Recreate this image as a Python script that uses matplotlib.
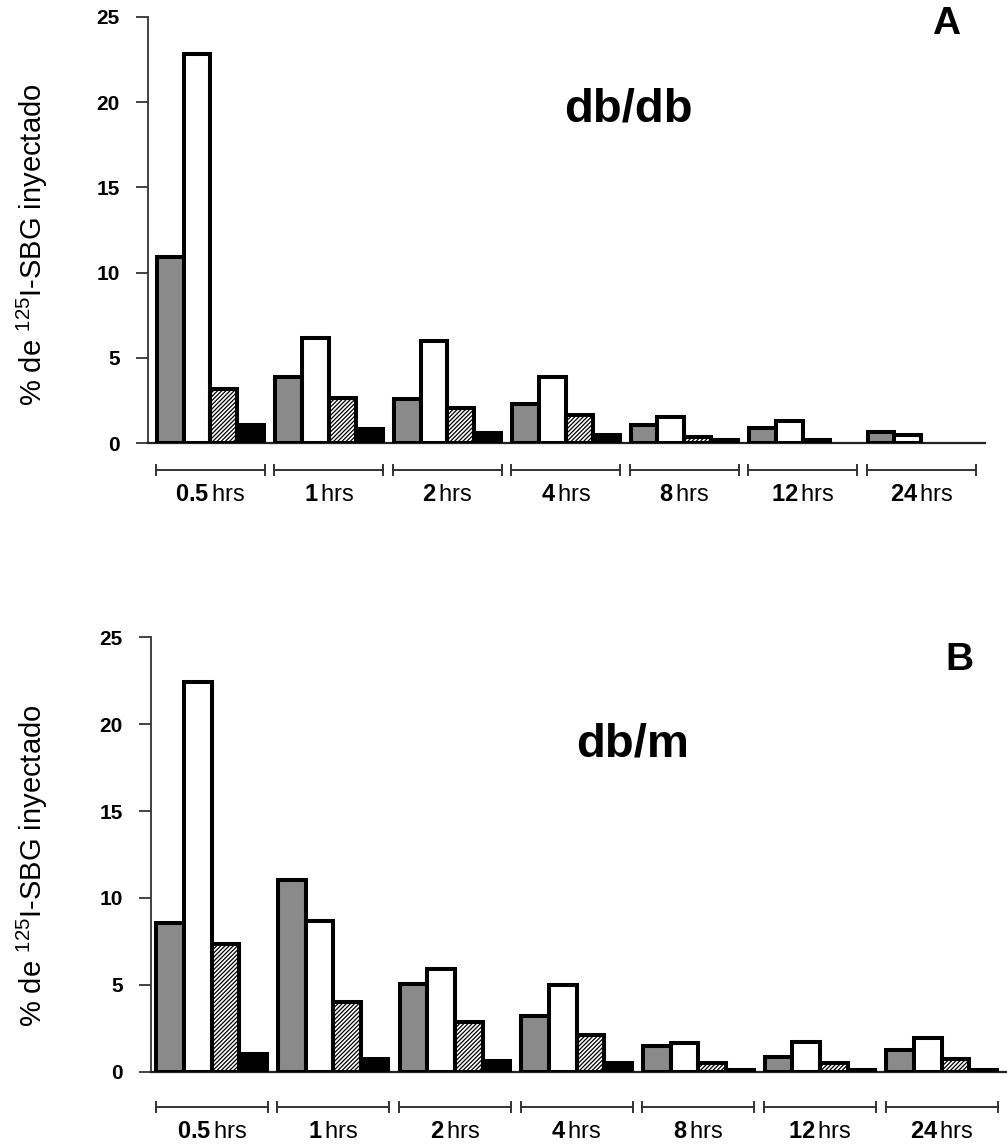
import numpy as np
import matplotlib.pyplot as plt
import matplotlib.transforms as mtransforms

plt.rcParams['font.family'] = ['Liberation Sans', 'DejaVu Sans']
plt.rcParams['mathtext.fontset'] = 'custom'
plt.rcParams['mathtext.rm'] = 'Liberation Sans'
plt.rcParams['mathtext.bf'] = 'Liberation Sans:bold'
plt.rcParams['mathtext.it'] = 'Liberation Sans:italic'
plt.rcParams['hatch.color'] = '#555555'
plt.rcParams['hatch.linewidth'] = 0.9

times = ['0.5', '1', '2', '4', '8', '12', '24']

# panel A  (db/db)
a_gray = [10.9, 3.9, 2.6, 2.3, 1.07, 0.91, 0.68]
a_white = [22.8, 6.15, 6.0, 3.9, 1.52, 1.3, 0.49]
a_hatch = [3.18, 2.67, 2.05, 1.66, 0.35, 0.22, 0.0]
a_black = [1.07, 0.82, 0.59, 0.49, 0.2, 0.0, 0.0]

# panel B  (db/m)
b_gray = [8.57, 11.03, 5.03, 3.22, 1.5, 0.86, 1.25]
b_white = [22.4, 8.69, 5.91, 4.99, 1.63, 1.73, 1.96]
b_hatch = [7.33, 3.99, 2.88, 2.11, 0.48, 0.48, 0.73]
b_black = [1.0, 0.73, 0.62, 0.48, 0.1, 0.1, 0.1]


def panel(ax, series, xlim, br_y, lab_y):
    x = np.arange(len(times))
    w = 0.227
    styles = [dict(color='#8a8a8a'), dict(color='white'),
              dict(color='white', hatch='////////'), dict(color='black')]
    for k, (vals, st) in enumerate(zip(series, styles)):
        lw = [2.9 if v > 0 else 0 for v in vals]
        ax.bar(x + (k - 1.5) * w, vals, w, edgecolor='black', linewidth=lw,
               zorder=3, **st)
    ax.set_xlim(*xlim)
    ax.set_ylim(0, 25)
    ax.set_yticks([0, 5, 10, 15, 20, 25])
    ax.set_xticks([])
    ax.spines['top'].set_visible(False)
    ax.spines['right'].set_visible(False)
    ax.spines['left'].set_linewidth(1.3)
    ax.spines['left'].set_color('#333333')
    ax.spines['bottom'].set_linewidth(1.6)
    ax.spines['bottom'].set_color('#222222')
    ax.tick_params(axis='y', direction='out', length=8.5, width=1.2,
                   pad=12, labelsize=15, colors='#222222')
    for t in ax.get_yticklabels():
        t.set_fontweight('bold')
        t.set_color('black')
    trans = mtransforms.blended_transform_factory(ax.transData, ax.transAxes)
    for i, t in enumerate(times):
        l, r = i - 0.46, i + 0.46
        ax.plot([l, r], [br_y, br_y], color='#333333', lw=1.4,
                transform=trans, clip_on=False)
        for xx in (l, r):
            ax.plot([xx, xx], [br_y - 0.012, br_y + 0.012], color='#333333',
                    lw=1.4, transform=trans, clip_on=False)
        ax.text(i, lab_y, r'$\mathbf{' + t + r'}\,$' + 'hrs', transform=trans,
                ha='center', va='center', fontsize=17)


fig = plt.figure(figsize=(10.07, 11.44), dpi=100)
axA = fig.add_axes([0.147, 0.6125, 0.831, 0.3729])
axB = fig.add_axes([0.150, 0.0632, 0.850, 0.3797])

panel(axA, [a_gray, a_white, a_hatch, a_black], (-0.527, 6.536), -0.0626, -0.121)
panel(axB, [b_gray, b_white, b_hatch, b_black], (-0.497, 6.537), -0.081, -0.139)

ylab = r'% de $^{\mathrm{125}}$I-SBG inyectado'
fig.text(0.032, 0.786, ylab, rotation=90, ha='center', va='center', fontsize=21)
fig.text(0.032, 0.243, ylab, rotation=90, ha='center', va='center', fontsize=21)

fig.text(0.624, 0.904, 'db/db', ha='center', va='center', fontsize=34, fontweight='bold')
fig.text(0.628, 0.349, 'db/m', ha='center', va='center', fontsize=34, fontweight='bold')
fig.text(0.940, 0.979, 'A', ha='center', va='center', fontsize=28, fontweight='bold')
fig.text(0.953, 0.423, 'B', ha='center', va='center', fontsize=28, fontweight='bold')

fig.savefig('out.png', dpi=100)
